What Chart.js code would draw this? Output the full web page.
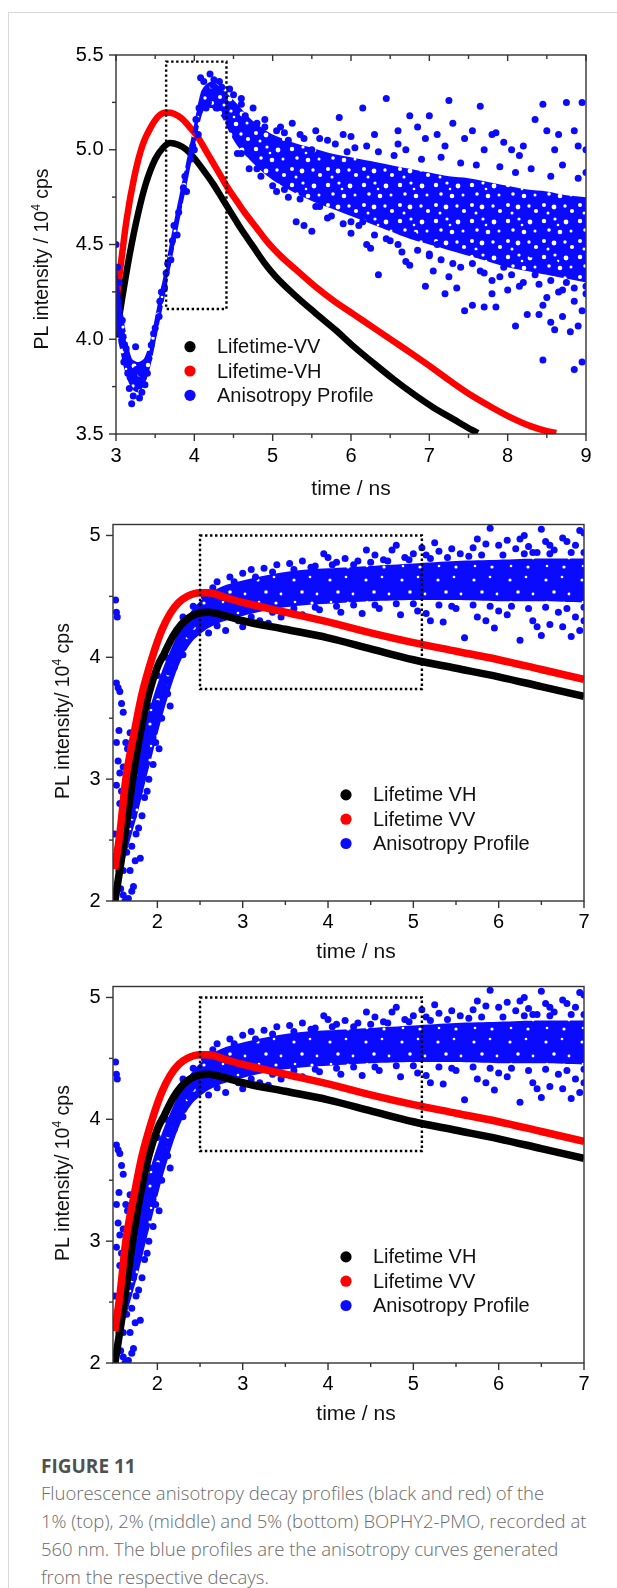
<!DOCTYPE html>
<html>
<head>
<meta charset="utf-8">
<script src="https://cdn.jsdelivr.net/npm/chart.js@4.4.1/dist/chart.umd.min.js"></script>
<style>
  body { margin: 0; background: #fff; }
  #page { position: relative; width: 617px; height: 1588px; overflow: hidden; background: #fff; }
  #frame { position: absolute; left: 8px; top: 12px; right: 0; bottom: 0; border-top: 1px solid #d8d8d8; border-left: 1px solid #d8d8d8; }
  .plot { position: absolute; left: 0; }
  #caption { position: absolute; left: 41px; top: 1454px; font-family: "Open Sans", Lato, sans-serif; font-size: 18.5px; line-height: 28px; color: #6a6a6a; white-space: nowrap; font-weight: 300; }
  #caption .fig { color: #505050; font-weight: 700; font-size: 19px; line-height: 25px; }
</style>
</head>
<body>
<div id="page">
  <div id="frame"></div>
  <canvas class="plot" id="c1" width="617" height="500" style="top:0"></canvas>
  <canvas class="plot" id="c2" width="617" height="465" style="top:500px"></canvas>
  <canvas class="plot" id="c3" width="617" height="465" style="top:962px"></canvas>
  <div id="caption"><div class="fig">FIGURE 11</div>Fluorescence anisotropy decay profiles (black and red) of the<br>1% (top), 2% (middle) and 5% (bottom) BOPHY2-PMO, recorded at<br>560 nm. The blue profiles are the anisotropy curves generated<br>from the respective decays.</div>
</div>
<script>
const FONT = '"Liberation Sans", Arial, Helvetica, sans-serif';

// ---- top panel (1%) ----
const topXTicks = [3, 4, 5, 6, 7, 8, 9];
const topYTicks = [3.5, 4.0, 4.5, 5.0, 5.5];
const topLegend = ['Lifetime-VV', 'Lifetime-VH', 'Anisotropy Profile'];
const topBox = [3.64, 4.16, 4.41, 5.465]; // x0, y0, x1, y1 of the dotted frame

// black
const topVV = [[3.00,4.01],[3.08,4.22],[3.18,4.46],[3.28,4.66],[3.38,4.82],[3.50,4.95],[3.60,5.01],[3.69,5.035],
  [3.80,5.025],[3.90,5.00],[4.00,4.955],[4.12,4.89],[4.24,4.82],[4.36,4.74],[4.48,4.66],[4.60,4.58],[4.75,4.49],
  [4.90,4.40],[5.04,4.33],[5.25,4.245],[5.54,4.14],[5.80,4.05],[6.04,3.96],[6.30,3.87],[6.54,3.79],[6.80,3.71],
  [7.05,3.64],[7.30,3.58],[7.55,3.52],[7.62,3.505]];
// red
const topVH = [[3.00,4.19],[3.06,4.39],[3.135,4.63],[3.235,4.86],[3.335,5.02],[3.46,5.13],[3.55,5.18],[3.64,5.196],
  [3.74,5.19],[3.84,5.165],[3.94,5.12],[4.04,5.07],[4.14,5.00],[4.24,4.93],[4.34,4.86],[4.44,4.79],[4.54,4.73],
  [4.64,4.67],[4.79,4.59],[4.94,4.51],[5.10,4.44],[5.29,4.37],[5.54,4.28],[5.79,4.20],[6.04,4.13],[6.29,4.06],
  [6.54,3.99],[6.79,3.92],[7.05,3.845],[7.30,3.77],[7.55,3.70],[7.80,3.64],[8.05,3.585],[8.30,3.54],[8.50,3.515],[8.62,3.505]];
// blue: dense core [x, low, high]
const topAnisoBand = [[3.00,4.05,4.40],[3.05,3.95,4.25],[3.12,3.82,4.05],[3.20,3.74,3.90],[3.28,3.72,3.88],
  [3.36,3.76,3.90],[3.44,3.86,4.00],[3.52,4.02,4.16],[3.60,4.18,4.32],[3.68,4.35,4.49],[3.76,4.52,4.66],
  [3.84,4.69,4.82],[3.92,4.85,4.98],[4.00,5.01,5.14],[4.08,5.16,5.30],[4.14,5.22,5.34],[4.22,5.22,5.36],
  [4.30,5.20,5.34],[4.38,5.15,5.31],[4.46,5.08,5.28],[4.55,5.02,5.24],[4.70,4.95,5.17],[4.85,4.89,5.12],
  [5.00,4.84,5.08],[5.25,4.78,5.04],[5.50,4.73,5.01],[5.75,4.69,4.98],[6.00,4.65,4.96],[6.25,4.61,4.94],
  [6.50,4.57,4.92],[6.75,4.53,4.90],[7.00,4.50,4.88],[7.25,4.47,4.86],[7.50,4.44,4.85],[7.75,4.41,4.83],
  [8.00,4.38,4.81],[8.25,4.36,4.79],[8.50,4.34,4.78],[8.75,4.32,4.76],[9.00,4.30,4.75]];
// blue: scattered points around the core
const topAnisoDots = [[3.00,4.50],[3.02,4.38],[3.05,4.12],[3.00,4.10],[3.08,3.98],[3.10,3.88],[3.15,3.82],[3.17,3.74],
  [3.20,3.66],[3.22,3.70],[3.25,3.96],[3.28,3.78],[3.30,3.69],[3.33,3.72],[3.37,3.76],[3.40,3.82],[3.45,3.97],
  [3.50,4.06],[3.55,4.12],[3.58,4.25],[3.62,4.27],[3.70,4.42],[3.72,4.52],[3.80,4.67],[3.88,4.86],[3.95,4.95],
  [4.02,5.16],[4.05,5.08],[4.15,5.22],[4.18,5.25],[4.28,5.22],[4.35,5.33],[4.12,5.36],[4.24,5.34],
  [3.48,4.03],[3.56,4.20],[3.64,4.35],[3.66,4.40],[3.74,4.60],[3.78,4.55],[3.86,4.80],[3.90,4.78],[3.98,5.02],
  [4.00,5.00],[4.06,5.22],[3.26,3.84],[3.32,3.82],[3.35,3.80],[3.18,3.80],[3.13,3.95],[3.42,3.90],[3.08,4.10],
  [3.04,4.30],[3.02,4.20],
  [4.08,5.38],[4.20,5.40],[4.25,5.37],[4.32,5.36],[4.45,5.32],[4.50,5.29],[4.60,5.24],[4.65,5.18],[4.75,5.22],
  [4.80,5.14],[4.90,5.12],[5.05,5.10],[5.15,5.09],[5.25,5.14],[5.40,5.06],[5.55,5.10],[5.70,5.05],[5.85,5.17],
  [6.00,5.07],[6.15,5.22],[6.30,5.08],[6.45,5.27],[6.60,5.03],[6.75,5.18],[6.85,5.12],[6.95,5.06],[7.00,5.18],
  [7.10,5.08],[7.25,5.26],[7.30,5.14],[7.45,5.06],[7.55,5.10],[7.65,5.23],[7.80,5.08],[7.95,5.04],[8.05,5.00],
  [8.20,5.02],[8.35,5.16],[8.45,5.24],[8.50,5.10],[8.65,5.08],[8.75,5.25],[8.85,5.10],[8.95,5.25],[9.00,5.00],
  [8.90,5.02],[7.85,5.09],[6.20,5.02],[5.95,4.99],[5.50,5.00],
  [4.60,5.27],[4.90,5.16],[5.10,5.12],[5.35,5.08],[5.60,5.06],[5.80,5.03],[6.05,5.01],[6.35,4.99],[6.55,4.97],
  [6.70,5.00],[6.90,4.95],[7.15,4.96],[7.40,4.93],[7.60,4.92],[7.90,4.91],[8.10,4.88],[8.30,4.90],[8.55,4.86],
  [8.70,4.92],[8.90,4.85],[9.00,4.88],[5.20,5.05],[5.90,5.08],[6.60,5.10],[7.20,5.02],[7.70,5.00],[8.15,4.97],[8.60,5.00],
  [4.55,4.98],[4.70,4.90],[4.85,4.86],[5.05,4.78],[5.20,4.75],[5.30,4.62],[5.40,4.60],[5.50,4.57],[5.75,4.65],
  [6.00,4.56],[6.15,4.62],[6.25,4.48],[6.35,4.34],[6.50,4.52],[6.65,4.46],[6.75,4.39],[6.80,4.55],[6.95,4.28],
  [7.00,4.44],[7.05,4.36],[7.20,4.24],[7.30,4.40],[7.35,4.27],[7.45,4.15],[7.55,4.18],[7.65,4.36],[7.70,4.17],
  [7.80,4.31],[7.85,4.17],[7.95,4.38],[8.00,4.26],[8.10,4.07],[8.15,4.28],[8.25,4.13],[8.35,4.34],[8.40,4.13],
  [8.45,3.89],[8.50,4.22],[8.55,4.09],[8.60,4.05],[8.65,4.25],[8.70,4.12],[8.75,4.30],[8.80,4.04],[8.85,3.84],
  [8.90,4.07],[8.95,3.88],[9.00,4.28],[8.85,4.20],[8.60,4.40],[8.30,4.45],[7.60,4.45],[7.10,4.50],[6.90,4.58],
  [6.00,4.62],[5.60,4.70],
  [4.60,4.98],[4.80,4.90],[5.00,4.81],[5.15,4.79],[5.35,4.74],[5.55,4.70],[5.70,4.64],[5.90,4.61],[6.10,4.60],
  [6.30,4.55],[6.45,4.53],[6.60,4.50],[6.85,4.47],[7.00,4.45],[7.15,4.42],[7.40,4.38],[7.55,4.40],[7.70,4.35],
  [7.90,4.33],[8.05,4.34],[8.20,4.30],[8.40,4.29],[8.55,4.31],[8.70,4.26],[8.85,4.27],[9.00,4.24],[6.20,4.50],
  [6.70,4.41],[7.25,4.33],[7.80,4.24],[8.45,4.18],[8.95,4.15]];

// ---- middle (2%) and bottom (5%) panels ----
const midXTicks = [2, 3, 4, 5, 6, 7];
const midYTicks = [2, 3, 4, 5];
const midLegend = ['Lifetime VH', 'Lifetime VV', 'Anisotropy Profile'];
const midBox = [2.5, 3.74, 5.1, 5.0];

// black
const midVH = [[1.50,1.99],[1.58,2.35],[1.65,2.70],[1.71,3.00],[1.80,3.38],[1.90,3.70],[2.00,3.92],[2.08,4.03],
  [2.18,4.17],[2.28,4.27],[2.38,4.33],[2.50,4.365],[2.60,4.37],[2.80,4.34],[3.00,4.30],[3.50,4.23],[4.00,4.16],
  [4.50,4.07],[5.00,3.98],[5.50,3.91],[6.00,3.84],[6.50,3.76],[7.00,3.68]];
// red
const midVV = [[1.50,2.26],[1.56,2.55],[1.63,3.00],[1.72,3.35],[1.82,3.70],[1.94,4.00],[2.05,4.22],[2.15,4.36],
  [2.25,4.45],[2.35,4.50],[2.50,4.53],[2.60,4.53],[2.80,4.49],[3.00,4.45],[3.50,4.37],[4.00,4.29],[4.50,4.20],
  [5.00,4.12],[5.50,4.05],[6.00,3.98],[6.50,3.90],[7.00,3.82]];
// blue core
const midAnisoBand = [[1.55,2.15,2.75],[1.62,2.35,2.95],[1.70,2.55,3.10],[1.78,2.75,3.30],[1.86,2.98,3.48],
  [1.94,3.20,3.65],[2.02,3.42,3.82],[2.10,3.62,3.97],[2.18,3.80,4.10],[2.26,3.95,4.22],[2.34,4.06,4.32],
  [2.42,4.14,4.40],[2.50,4.19,4.46],[2.60,4.24,4.52],[2.75,4.29,4.58],[3.00,4.34,4.63],[3.25,4.38,4.67],
  [3.50,4.41,4.70],[3.75,4.43,4.72],[4.00,4.44,4.73],[4.50,4.46,4.75],[5.00,4.47,4.77],[5.50,4.47,4.79],
  [6.00,4.46,4.80],[6.50,4.46,4.81],[7.00,4.45,4.81]];
// blue scatter
const midAnisoDots = [[1.51,4.47],[1.52,4.37],[1.53,4.33],[1.52,3.79],[1.54,3.75],[1.56,3.72],[1.58,3.62],[1.60,3.55],
  [1.55,3.40],[1.52,3.30],[1.54,3.15],[1.52,2.95],[1.56,3.05],[1.58,2.90],[1.50,2.55],[1.53,2.42],[1.55,2.25],
  [1.57,2.10],[1.60,2.05],[1.62,2.00],[1.66,2.02],[1.70,2.08],[1.72,2.12],[1.68,2.25],[1.74,2.33],[1.80,2.35],
  [1.65,3.25],[1.68,3.38],[1.70,3.30],[1.75,2.55],[1.82,2.70],[1.85,2.85],[1.90,3.00],[1.95,3.12],[1.98,3.30],
  [2.05,3.50],[2.12,3.70],[2.20,3.92],[2.30,4.02],[2.38,4.18],
  [1.90,3.60],[2.00,3.85],[2.10,4.00],[2.20,4.19],[2.30,4.33],[2.42,4.42],[2.55,4.50],
  [1.62,2.65],[1.66,2.85],[1.70,2.45],[1.72,2.70],[1.76,2.95],[1.80,3.05],[1.84,3.15],[1.88,3.25],[1.92,3.40],
  [1.96,3.50],[2.00,3.62],[2.04,3.70],[2.08,3.78],[2.14,3.88],[2.18,3.98],[2.24,4.08],[2.28,4.14],[2.34,4.22],
  [2.40,4.26],[1.58,2.50],[1.60,2.25],[1.64,2.40],[1.78,2.60],[1.88,2.90],[2.02,3.25],[2.15,3.60],[1.56,2.80],
  [1.60,3.10],[1.63,3.30],
  [2.70,4.62],[2.85,4.66],[3.00,4.69],[3.10,4.72],[3.25,4.73],[3.40,4.76],[3.55,4.77],[3.70,4.79],[3.85,4.75],
  [4.00,4.82],[4.10,4.78],[4.20,4.81],[4.35,4.79],[4.55,4.84],[4.65,4.80],[4.75,4.88],[4.90,4.82],[5.00,4.85],
  [5.15,4.84],[5.30,4.87],[5.45,4.89],[5.55,4.85],[5.70,4.90],[5.85,4.93],[5.90,5.06],[6.00,4.92],[6.10,4.96],
  [6.20,4.89],[6.25,4.97],[6.35,4.91],[6.50,5.05],[6.55,4.95],[6.65,4.88],[6.80,4.95],[6.90,4.92],[6.95,5.04],
  [7.00,5.02],[6.75,4.98],[6.40,4.86],[5.25,4.94],
  [2.65,4.57],[2.90,4.62],[3.15,4.66],[3.35,4.70],[3.60,4.72],[3.80,4.74],[4.05,4.76],[4.30,4.76],[4.50,4.78],
  [4.70,4.79],[4.95,4.80],[5.20,4.81],[5.40,4.82],[5.65,4.83],[5.80,4.84],[6.05,4.84],[6.30,4.85],[6.45,4.86],
  [6.60,4.85],[6.85,4.86],[7.00,4.86],[4.45,4.88],[5.10,4.90],[5.75,4.97],[6.30,5.00],[6.60,4.92],[3.95,4.85],[4.80,4.92],
  [2.60,4.20],[2.80,4.22],[3.00,4.25],[3.20,4.30],[3.45,4.33],[3.70,4.35],[3.90,4.39],[4.15,4.37],[4.40,4.36],
  [4.60,4.40],[4.85,4.35],[5.05,4.38],[5.20,4.30],[5.35,4.29],[5.60,4.16],[5.75,4.33],[5.95,4.24],[6.10,4.35],
  [6.25,4.14],[6.40,4.30],[6.50,4.18],[6.60,4.27],[6.75,4.25],[6.85,4.17],[6.95,4.22],[7.00,4.30],[5.50,4.40],
  [6.00,4.38],[6.70,4.37],
  [2.70,4.26],[2.95,4.30],[3.10,4.33],[3.35,4.37],[3.60,4.40],[3.85,4.41],[4.10,4.42],[4.30,4.43],[4.55,4.43],
  [4.80,4.44],[5.00,4.44],[5.30,4.43],[5.45,4.42],[5.70,4.43],[5.90,4.42],[6.15,4.42],[6.35,4.40],[6.55,4.41],
  [6.80,4.40],[7.00,4.41],[5.15,4.36],[5.85,4.30],[6.45,4.25],[6.90,4.33],[3.30,4.28]];

const pts = a => a.map(p => ({ x: p[0], y: p[1] }));

// speckled texture for the dense part of the blue cloud: blue with small see-through gaps
function speckle(holes, color) {
  const t = document.createElement('canvas');
  t.width = 36; t.height = 36;
  const g = t.getContext('2d');
  g.fillStyle = color;
  g.fillRect(0, 0, 36, 36);
  g.globalCompositeOperation = 'destination-out';
  holes.forEach(([x, y, r]) => { g.beginPath(); g.arc(x, y, r, 0, Math.PI * 2); g.fill(); });
  return g.createPattern(t, 'repeat');
}
const topHoles = [[4,5,2.2],[15,3,1.6],[26,6,2.4],[9,14,1.8],[20,16,2.3],[31,15,1.5],[4,25,2.0],[14,27,2.4],
  [25,26,1.7],[32,31,2.1],[18,9,1.3],[8,33,1.5]];
const midHoles = [[6,8,1.6],[22,5,1.3],[14,20,1.8],[29,22,1.4],[7,30,1.3],[24,31,1.6]];

// draws frame, ticks, dotted box, legend and axis titles
const deco = {
  id: 'deco',
  afterDatasetsDraw(chart, args, o) {
    const { ctx } = chart, sx = chart.scales.x, sy = chart.scales.y;
    const b = o.box;
    const x0 = sx.getPixelForValue(b[0]), x1 = sx.getPixelForValue(b[2]);
    const y0 = sy.getPixelForValue(b[1]), y1 = sy.getPixelForValue(b[3]);
    ctx.save();
    ctx.strokeStyle = '#000';
    ctx.lineWidth = 2.4;
    ctx.setLineDash([2.4, 2.6]);
    ctx.strokeRect(x0, y1, x1 - x0, y0 - y1);
    ctx.restore();
  },
  afterDraw(chart, args, o) {
    const { ctx, chartArea: a } = chart, sx = chart.scales.x, sy = chart.scales.y;
    ctx.save();
    ctx.strokeStyle = '#333';
    ctx.lineWidth = 1.4;
    ctx.strokeRect(a.left, a.top, a.right - a.left, a.bottom - a.top);
    const line = (x0, y0, x1, y1) => { ctx.beginPath(); ctx.moveTo(x0, y0); ctx.lineTo(x1, y1); ctx.stroke(); };
    const mids = t => t.slice(1).map((v, i) => (v + t[i]) / 2);
    o.xTicks.forEach(v => { const p = sx.getPixelForValue(v); line(p, a.bottom, p, a.bottom + 7); if (o.topTicks) line(p, a.top, p, a.top + 6); });
    mids(o.xTicks).forEach(v => { const p = sx.getPixelForValue(v); line(p, a.bottom, p, a.bottom + 4); if (o.topTicks) line(p, a.top, p, a.top + 4); });
    o.yTicks.forEach(v => { const p = sy.getPixelForValue(v); line(a.left - 7, p, a.left, p); });
    mids(o.yTicks).forEach(v => { const p = sy.getPixelForValue(v); line(a.left - 4, p, a.left, p); });

    // legend
    const lg = o.legend;
    ctx.font = '20px ' + FONT;
    ctx.textBaseline = 'middle';
    ctx.textAlign = 'left';
    lg.names.forEach((n, i) => {
      const cy = a.top + lg.dy + i * lg.gap;
      ctx.fillStyle = lg.colors[i];
      ctx.beginPath(); ctx.arc(a.left + lg.dx, cy, 5.6, 0, Math.PI * 2); ctx.fill();
      ctx.fillStyle = '#111';
      ctx.fillText(n, a.left + lg.tx, cy + 1);
    });

    // axis titles
    drawTitle(ctx, o.yTitle.parts, o.yTitle.x, o.yTitle.y, -Math.PI / 2, o.yTitle.size);
    drawTitle(ctx, o.xTitle.parts, o.xTitle.x, o.xTitle.y, 0, o.xTitle.size);
    ctx.restore();
  }
};

function drawTitle(ctx, parts, x, y, rot, size) {
  ctx.save();
  ctx.translate(x, y);
  ctx.rotate(rot);
  ctx.fillStyle = '#111';
  ctx.textBaseline = 'alphabetic';
  ctx.textAlign = 'left';
  const big = size + 'px ' + FONT, small = (size * 0.62) + 'px ' + FONT;
  const fonts = [big, small, big];
  const widths = parts.map((p, i) => { ctx.font = fonts[i]; return ctx.measureText(p).width; });
  let cx = -(widths[0] + widths[1] + widths[2]) / 2;
  parts.forEach((p, i) => {
    ctx.font = fonts[i];
    ctx.fillText(p, cx, i === 1 ? size * 0.36 - size * 0.4 : size * 0.36);
    cx += widths[i];
  });
  ctx.restore();
}

function makeChart(id, c) {
  const blue = '#0a0aff';
  const canvas = document.getElementById(id);
  const band = c.band;
  const curveBlack = { data: pts(c.black), borderColor: '#000', borderWidth: c.lineW, pointRadius: 0, showLine: true, cubicInterpolationMode: 'monotone', fill: false };
  const curveRed = { data: pts(c.red), borderColor: '#f00', borderWidth: c.lineW, pointRadius: 0, showLine: true, cubicInterpolationMode: 'monotone', fill: false };
  const dots = { data: pts(c.dots), showLine: false, pointRadius: 3.5, pointBackgroundColor: blue, pointBorderWidth: 0, fill: false };
  const hi = { data: band.map(r => ({ x: r[0], y: r[2] })), showLine: true, borderWidth: 0, pointRadius: 0, tension: 0.3, backgroundColor: speckle(c.holes, blue), fill: '+1' };
  const lo = { data: band.map(r => ({ x: r[0], y: r[1] })), showLine: true, borderWidth: 0, pointRadius: 0, tension: 0.3, fill: false };
  // first dataset is drawn on top
  const datasets = c.blueOnTop ? [dots, hi, lo, curveRed, curveBlack] : [curveRed, curveBlack, dots, hi, lo];

  const tickFont = { family: FONT, size: 20 };
  new Chart(canvas, {
    type: 'line',
    data: { datasets },
    plugins: [deco],
    options: {
      responsive: false,
      animation: false,
      events: [],
      layout: { padding: { top: c.padTop, right: c.padRight, left: 0, bottom: 0 } },
      plugins: {
        legend: { display: false },
        tooltip: { enabled: false },
        deco: {
          box: c.box, xTicks: c.xTicks, yTicks: c.yTicks, topTicks: c.topTicks,
          legend: { names: c.legend, colors: ['#000', '#f00', blue], dx: c.lgX, tx: c.lgX + 27, dy: c.lgY, gap: 24.3 },
          yTitle: c.yTitle, xTitle: c.xTitle
        }
      },
      scales: {
        x: {
          type: 'linear', min: c.xMin, max: c.xMax,
          grid: { display: false, drawTicks: false }, border: { display: false },
          afterBuildTicks: s => { s.ticks = c.xTicks.map(v => ({ value: v })); },
          afterFit: s => { s.height = c.xH; },
          ticks: { font: tickFont, color: '#000', padding: c.xPad, maxRotation: 0, autoSkip: false, callback: v => String(v) }
        },
        y: {
          type: 'linear', min: c.yMin, max: c.yMax,
          grid: { display: false, drawTicks: false }, border: { display: false },
          afterBuildTicks: s => { s.ticks = c.yTicks.map(v => ({ value: v })); },
          afterFit: s => { s.width = c.yW; },
          ticks: { font: tickFont, color: '#000', padding: c.yPad, callback: c.yFmt }
        }
      }
    }
  });
}

makeChart('c1', {
  xMin: 3, xMax: 9, yMin: 3.5, yMax: 5.5, xTicks: topXTicks, yTicks: topYTicks, yFmt: v => v.toFixed(1),
  padTop: 55, padRight: 31, yW: 116, xH: 66, xPad: 10.5, yPad: 12.5, topTicks: true,
  black: topVV, red: topVH, band: topAnisoBand, dots: topAnisoDots, holes: topHoles,
  blueOnTop: true, lineW: 6.5, box: topBox, legend: topLegend, lgX: 74, lgY: 291.7,
  yTitle: { parts: ['PL intensity / 10', '4', ' cps'], x: 41, y: 259, size: 19.5 },
  xTitle: { parts: ['time / ns', '', ''], x: 351, y: 487, size: 21 }
});

const midCfg = {
  xMin: 1.48, xMax: 7, yMin: 2, yMax: 5.09, xTicks: midXTicks, yTicks: midYTicks, yFmt: v => String(v),
  padTop: 23, padRight: 33, yW: 113, xH: 64, xPad: 9, yPad: 12.5, topTicks: false,
  black: midVH, red: midVV, band: midAnisoBand, dots: midAnisoDots, holes: midHoles,
  blueOnTop: false, lineW: 7.5, box: midBox, legend: midLegend, lgX: 233, lgY: 270.4,
  yTitle: { parts: ['PL intensity/ 10', '4', ' cps'], x: 62, y: 211, size: 19.5 },
  xTitle: { parts: ['time / ns', '', ''], x: 356, y: 450, size: 21 }
};
makeChart('c2', midCfg);
// bottom panel shows the same profiles as the middle one
makeChart('c3', midCfg);
</script>
</body>
</html>
